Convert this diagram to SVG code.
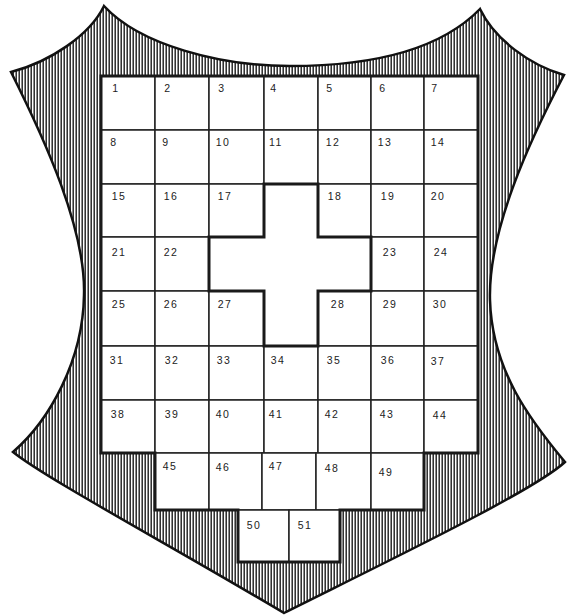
<svg xmlns="http://www.w3.org/2000/svg" width="572" height="616" viewBox="0 0 572 616">
<defs>
<pattern id="hatch" width="3" height="10" patternUnits="userSpaceOnUse">
<rect width="3" height="10" fill="#fff"/>
<line x1="1.2" y1="0" x2="1.2" y2="10" stroke="#1a1a1a" stroke-width="1.4"/>
</pattern>
<style>
.cell rect{fill:#fff;stroke:#222;stroke-width:1.5}
.cell text{font-family:"Liberation Sans",Arial,sans-serif;font-size:10.5px;fill:#222;text-anchor:middle;letter-spacing:1.5px}
.thick{fill:none;stroke:#1a1a1a;stroke-width:3;stroke-linejoin:miter}
</style>
</defs>
<rect width="572" height="616" fill="#fff"/>
<g id="shield">
<path d="M104,6 C140,45 220,66 290,66 C370,66 440,50 480,9 C495,40 530,65 564,75 C530,140 488,230 490,300 C492,370 530,420 565,462 C535,490 400,555 284,613 C170,545 45,478 13,452 C50,420 83,360 84,295 C86,230 45,140 11,72 C50,62 90,35 104,6 Z" fill="url(#hatch)" stroke="#111" stroke-width="2.5" stroke-linejoin="miter"/>
<polygon points="101,76 478,76 478,453 424,453 424,510 340,510 340,562 238,562 238,510 155,510 155,453 101,453" fill="#fff"/>
</g>
<g id="cells">
<g id="c1" class="cell"><rect x="101" y="76" width="54" height="54"/><text x="116" y="92">1</text></g>
<g id="c2" class="cell"><rect x="155" y="76" width="54" height="54"/><text x="168" y="92">2</text></g>
<g id="c3" class="cell"><rect x="209" y="76" width="55" height="54"/><text x="222" y="92">3</text></g>
<g id="c4" class="cell"><rect x="264" y="76" width="54" height="54"/><text x="274" y="92">4</text></g>
<g id="c5" class="cell"><rect x="318" y="76" width="53" height="54"/><text x="330" y="92">5</text></g>
<g id="c6" class="cell"><rect x="371" y="76" width="53" height="54"/><text x="383" y="92">6</text></g>
<g id="c7" class="cell"><rect x="424" y="76" width="54" height="54"/><text x="435" y="92">7</text></g>
<g id="c8" class="cell"><rect x="101" y="130" width="54" height="54"/><text x="114" y="146">8</text></g>
<g id="c9" class="cell"><rect x="155" y="130" width="54" height="54"/><text x="166" y="146">9</text></g>
<g id="c10" class="cell"><rect x="209" y="130" width="55" height="54"/><text x="223" y="146">10</text></g>
<g id="c11" class="cell"><rect x="264" y="130" width="54" height="54"/><text x="276" y="146">11</text></g>
<g id="c12" class="cell"><rect x="318" y="130" width="53" height="54"/><text x="333" y="146">12</text></g>
<g id="c13" class="cell"><rect x="371" y="130" width="53" height="54"/><text x="385" y="146">13</text></g>
<g id="c14" class="cell"><rect x="424" y="130" width="54" height="54"/><text x="438" y="146">14</text></g>
<g id="c15" class="cell"><rect x="101" y="184" width="54" height="53"/><text x="119" y="200">15</text></g>
<g id="c16" class="cell"><rect x="155" y="184" width="54" height="53"/><text x="171" y="200">16</text></g>
<g id="c17" class="cell"><rect x="209" y="184" width="55" height="53"/><text x="225" y="200">17</text></g>
<g id="c18" class="cell"><rect x="318" y="184" width="53" height="53"/><text x="335" y="200">18</text></g>
<g id="c19" class="cell"><rect x="371" y="184" width="53" height="53"/><text x="388" y="200">19</text></g>
<g id="c20" class="cell"><rect x="424" y="184" width="54" height="53"/><text x="438" y="200">20</text></g>
<g id="c21" class="cell"><rect x="101" y="237" width="54" height="54"/><text x="119" y="256">21</text></g>
<g id="c22" class="cell"><rect x="155" y="237" width="54" height="54"/><text x="171" y="256">22</text></g>
<g id="c23" class="cell"><rect x="371" y="237" width="53" height="54"/><text x="390" y="256">23</text></g>
<g id="c24" class="cell"><rect x="424" y="237" width="54" height="54"/><text x="441" y="256">24</text></g>
<g id="c25" class="cell"><rect x="101" y="291" width="54" height="55"/><text x="119" y="308">25</text></g>
<g id="c26" class="cell"><rect x="155" y="291" width="54" height="55"/><text x="171" y="308">26</text></g>
<g id="c27" class="cell"><rect x="209" y="291" width="55" height="55"/><text x="225" y="308">27</text></g>
<g id="c28" class="cell"><rect x="318" y="291" width="53" height="55"/><text x="338" y="308">28</text></g>
<g id="c29" class="cell"><rect x="371" y="291" width="53" height="55"/><text x="390" y="308">29</text></g>
<g id="c30" class="cell"><rect x="424" y="291" width="54" height="55"/><text x="440" y="308">30</text></g>
<g id="c31" class="cell"><rect x="101" y="346" width="54" height="54"/><text x="117" y="364">31</text></g>
<g id="c32" class="cell"><rect x="155" y="346" width="54" height="54"/><text x="172" y="364">32</text></g>
<g id="c33" class="cell"><rect x="209" y="346" width="55" height="54"/><text x="224" y="364">33</text></g>
<g id="c34" class="cell"><rect x="264" y="346" width="54" height="54"/><text x="278" y="364">34</text></g>
<g id="c35" class="cell"><rect x="318" y="346" width="53" height="54"/><text x="334" y="364">35</text></g>
<g id="c36" class="cell"><rect x="371" y="346" width="53" height="54"/><text x="388" y="364">36</text></g>
<g id="c37" class="cell"><rect x="424" y="346" width="54" height="54"/><text x="438" y="365">37</text></g>
<g id="c38" class="cell"><rect x="101" y="400" width="54" height="53"/><text x="118" y="418">38</text></g>
<g id="c39" class="cell"><rect x="155" y="400" width="54" height="53"/><text x="172" y="418">39</text></g>
<g id="c40" class="cell"><rect x="209" y="400" width="55" height="53"/><text x="223" y="418">40</text></g>
<g id="c41" class="cell"><rect x="264" y="400" width="54" height="53"/><text x="276" y="418">41</text></g>
<g id="c42" class="cell"><rect x="318" y="400" width="53" height="53"/><text x="332" y="418">42</text></g>
<g id="c43" class="cell"><rect x="371" y="400" width="53" height="53"/><text x="387" y="418">43</text></g>
<g id="c44" class="cell"><rect x="424" y="400" width="54" height="53"/><text x="440" y="419">44</text></g>
<g id="c45" class="cell"><rect x="155" y="453" width="54" height="57"/><text x="170" y="470">45</text></g>
<g id="c46" class="cell"><rect x="209" y="453" width="53" height="57"/><text x="223" y="471">46</text></g>
<g id="c47" class="cell"><rect x="262" y="453" width="54" height="57"/><text x="276" y="470">47</text></g>
<g id="c48" class="cell"><rect x="316" y="453" width="55" height="57"/><text x="332" y="472">48</text></g>
<g id="c49" class="cell"><rect x="371" y="453" width="53" height="57"/><text x="386" y="476">49</text></g>
<g id="c50" class="cell"><rect x="238" y="510" width="51" height="52"/><text x="254" y="529">50</text></g>
<g id="c51" class="cell"><rect x="289" y="510" width="51" height="52"/><text x="305" y="529">51</text></g>
</g>
<g id="outlines">
<polygon class="thick" points="101,76 478,76 478,453 424,453 424,510 340,510 340,562 238,562 238,510 155,510 155,453 101,453"/>
<polygon id="cross" class="thick" points="264,184 318,184 318,237 371,237 371,291 318,291 318,346 264,346 264,291 209,291 209,237 264,237"/>
</g>
</svg>
